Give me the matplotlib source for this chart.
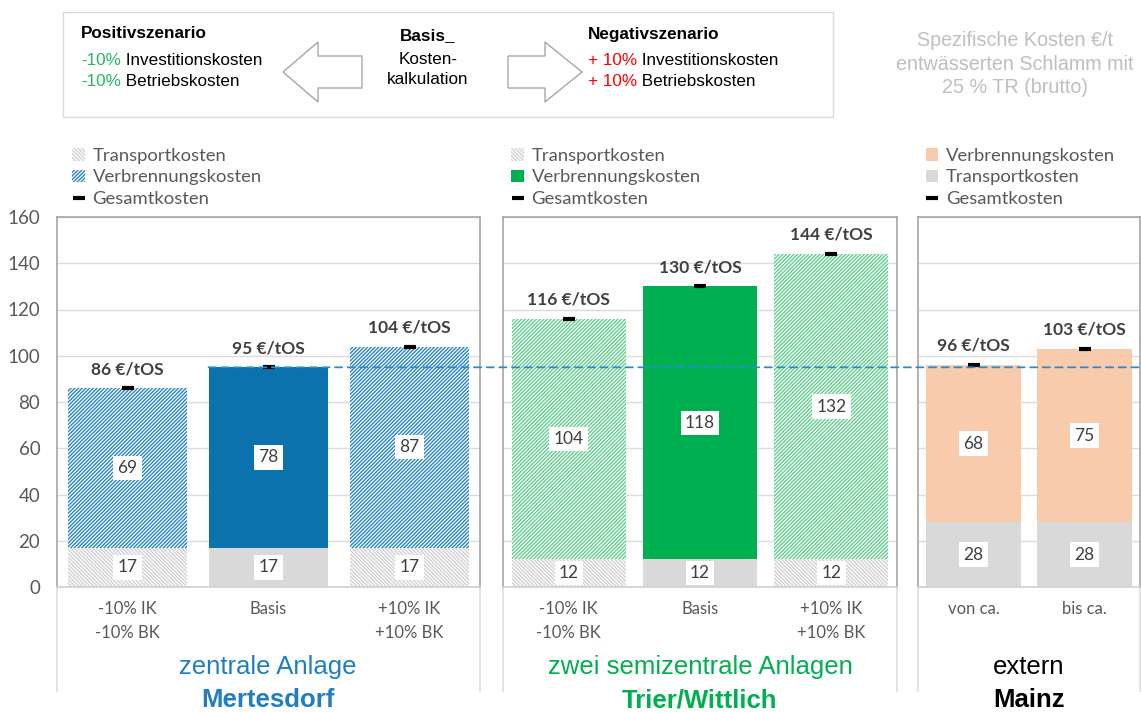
import matplotlib
matplotlib.use("Agg")
import matplotlib.pyplot as plt
from matplotlib.patches import Patch, Rectangle, Polygon, ConnectionPatch
from matplotlib.lines import Line2D

# --- data -----------------------------------------------------------------
cats_ab = ["-10% IK\n-10% BK", "Basis", "+10% IK\n+10% BK"]
cats_ext = ["von ca.", "bis ca."]

transport_mert = [17, 17, 17]
burn_mert = [69, 78, 87]
total_mert = [86, 95, 104]

transport_trier = [12, 12, 12]
burn_trier = [104, 118, 132]
total_trier = [116, 130, 144]

transport_mainz = [28, 28]
burn_mainz = [68, 75]
total_mainz = [96, 103]

reference_value = 95  # Basis Mertesdorf

group_names = ["zentrale Anlage", "zwei semizentrale Anlagen", "extern"]
group_sites = ["Mertesdorf", "Trier/Wittlich", "Mainz"]

# --- style ----------------------------------------------------------------
BLUE = "#0b72ad"
BLUE_H = "#2a86c6"
GREEN = "#00b050"
GREEN_H = "#62cf8f"
ORANGE = "#f8cbad"
GREY = "#d9d9d9"
GREY_H = "#d2d2d2"
TXT = "#595959"
DARK = "#404040"
ARIAL = "Liberation Sans"
HATCH_F = "/" * 9
HATCH_B = "\\" * 9

plt.rcParams.update({"font.family": "Lato", "hatch.linewidth": 1.0})

W, H = 1141, 712
fig = plt.figure(figsize=(W / 100, H / 100), dpi=100)


def fx(px):
    return px / W


def fy(py):
    return 1 - py / H


Y0, Y1 = 587, 217  # pixel rows of 0 and 160


def make_ax(left, right):
    ax = fig.add_axes([fx(left), fy(Y0), (right - left) / W, (Y0 - Y1) / H])
    ax.set_ylim(0, 160)
    ax.set_yticks(range(0, 161, 20))
    ax.grid(axis="y", color="#dcdcdc", lw=1)
    ax.set_axisbelow(True)
    for s in ax.spines.values():
        s.set_color("#a6a6a6")
        s.set_linewidth(1.2)
    ax.spines["bottom"].set_color("#d0d0d0")
    ax.tick_params(length=0, labelsize=13.5, labelcolor=TXT, pad=12)
    # light category-axis dividers below the plot area
    for xa in (0, 1):
        ax.add_line(Line2D([xa, xa], [0, -0.28], transform=ax.transAxes,
                           color="#dedede", lw=1.2, clip_on=False))
    return ax


def panel(ax, cats, transport, burn, total, styles, width):
    x = list(range(len(cats)))
    ax.set_xlim(-0.5, len(cats) - 0.5)
    for i in x:
        t_kw, b_kw = styles[i]
        ax.bar(i, transport[i], width, linewidth=0, **t_kw)
        ax.bar(i, burn[i], width, bottom=transport[i], linewidth=0, **b_kw)
        box = dict(fc="white", ec="none", pad=3)
        ax.text(i, transport[i] / 2, str(transport[i]), ha="center", va="center",
                fontsize=12.5, color=DARK, bbox=box)
        ax.text(i, transport[i] + burn[i] / 2, str(burn[i]), ha="center", va="center",
                fontsize=12.5, color=DARK, bbox=box)
        ax.plot(i, total[i], marker="_", ms=9, mew=3, color="black", zorder=5)
        ax.annotate(f"{total[i]} €/tOS", (i, total[i]), xytext=(0, 8),
                    textcoords="offset points", ha="center", va="bottom",
                    fontsize=12.5, fontweight="bold", color=DARK)
    ax.set_xticks(x)
    ax.set_xticklabels(cats, linespacing=1.6, fontsize=12, color=TXT)
    ax.tick_params(axis="x", pad=10)


def legend(ax, handles, labels, xa):
    ax.legend(handles, labels, loc="lower left", bbox_to_anchor=(xa, 1 + 10 / 370),
              frameon=False, fontsize=13.3, handlelength=0.7, handleheight=0.7,
              handletextpad=0.4, labelspacing=0.3, borderpad=0, borderaxespad=0,
              labelcolor=TXT)


hatch_tr = dict(color="white", edgecolor=GREY_H, hatch=HATCH_B)
solid_tr = dict(color=GREY)
gesamt = Line2D([], [], marker="_", ls="none", color="black", ms=8, mew=3)

# panel 1 - Mertesdorf
ax1 = make_ax(57, 480)
hatch_b = dict(color="white", edgecolor=BLUE_H, hatch=HATCH_F)
solid_b = dict(color=BLUE)
panel(ax1, cats_ab, transport_mert, burn_mert, total_mert,
      [(hatch_tr, hatch_b), (solid_tr, solid_b), (hatch_tr, hatch_b)], 0.85)
legend(ax1, [Patch(fc="white", ec=GREY_H, hatch=HATCH_B, lw=0),
             Patch(fc="white", ec=BLUE_H, hatch=HATCH_F, lw=0), gesamt],
       ["Transportkosten", "Verbrennungskosten", "Gesamtkosten"], 0.036)

# panel 2 - Trier/Wittlich
ax2 = make_ax(503, 897)
hatch_g = dict(color="white", edgecolor=GREEN_H, hatch=HATCH_F)
solid_g = dict(color=GREEN)
panel(ax2, cats_ab, transport_trier, burn_trier, total_trier,
      [(hatch_tr, hatch_g), (solid_tr, solid_g), (hatch_tr, hatch_g)], 0.87)
ax2.set_yticklabels([])
legend(ax2, [Patch(fc="white", ec=GREY_H, hatch=HATCH_B, lw=0),
             Patch(fc=GREEN, lw=0), gesamt],
       ["Transportkosten", "Verbrennungskosten", "Gesamtkosten"], 0.021)

# panel 3 - Mainz
ax3 = make_ax(918, 1140)
solid_o = dict(color=ORANGE)
panel(ax3, cats_ext, transport_mainz, burn_mainz, total_mainz,
      [(solid_tr, solid_o), (solid_tr, solid_o)], 0.85)
ax3.set_yticklabels([])
legend(ax3, [Patch(fc=ORANGE, lw=0), Patch(fc=GREY, lw=0), gesamt],
       ["Verbrennungskosten", "Transportkosten", "Gesamtkosten"], 0.034)

# dashed reference line (Basis Mertesdorf) across all panels
con = ConnectionPatch(xyA=(1 - 0.425, reference_value), coordsA=ax1.transData,
                      xyB=(1.5, reference_value), coordsB=ax3.transData,
                      color="#2b8bd0", lw=1.3, linestyle=(0, (4, 3)), zorder=10)
fig.add_artist(con)

# group labels under the panels
group_colors = ["#1f7fc0", GREEN, "black"]
for cx, name, site, col in zip([268, 700, 1029], group_names, group_sites, group_colors):
    fig.text(fx(cx), fy(667), name, ha="center", va="center", fontsize=18.5,
             family=ARIAL, color=col)
    fig.text(fx(cx), fy(700), site, ha="center", va="center", fontsize=18.5,
             family=ARIAL, color=col, fontweight="bold")

# --- scenario box at the top ----------------------------------------------
fig.add_artist(Rectangle((fx(63), fy(117)), (833 - 63) / W, (117 - 12) / H,
                         transform=fig.transFigure, fill=False, ec="#dadada", lw=1))


def arrow(pts):
    fig.add_artist(Polygon([(fx(a), fy(b)) for a, b in pts], closed=True,
                           transform=fig.transFigure, fc="white", ec="#a6a6a6", lw=1))


arrow([(283, 72), (318, 42), (318, 56), (362, 56), (362, 88), (318, 88), (318, 102)])
arrow([(582, 72), (545, 42), (545, 56), (508, 56), (508, 88), (545, 88), (545, 102)])

FS = 12.3


def two_part(px, py, first, col, rest):
    t = fig.text(fx(px), fy(py), first, color=col, fontsize=FS, family=ARIAL,
                 va="baseline", ha="left")
    fig.add_artist(plt.Annotation(rest, xy=(1, 0), xycoords=t, xytext=(0, 0),
                                  textcoords="offset points", fontsize=FS,
                                  family=ARIAL, va="bottom", ha="left",
                                  color="black", annotation_clip=False))


fig.text(fx(81), fy(34), "Positivszenario", fontsize=FS, family=ARIAL,
         fontweight="bold", va="center")
two_part(81, 65, "-10%", "#2ab464", " Investitionskosten")
two_part(81, 86, "-10%", "#2ab464", " Betriebskosten")

fig.text(fx(428), fy(36), "Basis_", fontsize=FS, family=ARIAL, fontweight="bold",
         ha="center", va="center")
fig.text(fx(428), fy(59), "Kosten-", fontsize=FS, family=ARIAL, ha="center", va="center")
fig.text(fx(428), fy(80), "kalkulation", fontsize=FS, family=ARIAL, ha="center", va="center")

fig.text(fx(588), fy(34), "Negativszenario", fontsize=FS, family=ARIAL,
         fontweight="bold", va="center")
two_part(588, 65, "+ 10%", "#ff0000", " Investitionskosten")
two_part(588, 86, "+ 10%", "#ff0000", " Betriebskosten")

fig.text(fx(1015), fy(64), "Spezifische Kosten €/t\nentwässerten Schlamm mit\n25 % TR (brutto)",
         ha="center", va="center", fontsize=14.2, family=ARIAL, color="#bfbfbf",
         linespacing=1.3)

fig.savefig("out.png", dpi=100)
